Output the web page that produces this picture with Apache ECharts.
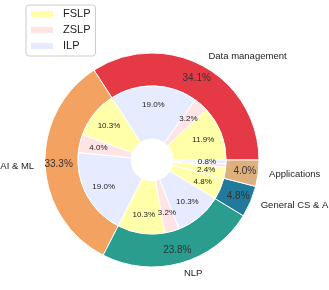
<!DOCTYPE html>
<html><head><meta charset="utf-8">
<script src="https://cdn.jsdelivr.net/npm/echarts@6/dist/echarts.min.js"></script>
<style>html,body{margin:0;padding:0;background:#fff}#c{width:329px;height:290px}</style>
</head><body><div id="c"></div>
<script>
const categories = ['Data management', 'AI & ML', 'NLP', 'General CS & AI', 'Applications'];
const promptTypes = ['FSLP', 'ZSLP', 'ILP'];
const fslp = [15, 13, 13, 6, 3];
const zslp = [4, 5, 4, 0, 1];
const ilp  = [24, 24, 13, 0, 1];
const catColors = ['#e63946', '#f4a261', '#2a9d8f', '#217a9c', '#ddb07e'];
const typeColors = ['#ffffaa', '#ffe4e6', '#e6ebff'];

const catTotals = categories.map((c, i) => fslp[i] + zslp[i] + ilp[i]);
const grand = catTotals.reduce((a, b) => a + b, 0);
const pct = v => (v / grand * 100).toFixed(1) + '%';

const outerData = categories.map((c, i) => ({ name: c, value: catTotals[i], itemStyle: { color: catColors[i] } }));
const innerData = [];
categories.forEach((c, i) => {
  [fslp[i], zslp[i], ilp[i]].forEach((v, j) => {
    innerData.push({ name: promptTypes[j], value: v, itemStyle: { color: typeColors[j] } });
  });
});

const FONT = 'Liberation Sans, Arial, sans-serif';
const center = [152, 160];
const common = { center: center, startAngle: 0, clockwise: false, avoidLabelOverlap: false, minAngle: 0, emphasis: { disabled: true } };

const chart = echarts.init(document.getElementById('c'), null, { renderer: 'canvas' });
chart.setOption({
  animation: false,
  legend: {
    data: promptTypes, orient: 'vertical', left: 26, top: 5,
    itemWidth: 24, itemHeight: 8, itemGap: 4, icon: 'rect',
    padding: [3, 5, 4, 3], borderColor: '#cccccc', borderWidth: 1, borderRadius: 3, backgroundColor: '#fff',
    textStyle: { fontFamily: FONT, fontSize: 11, lineHeight: 12, color: '#222', padding: [0, 0, 0, 4] }, selectedMode: false
  },
  series: [
    Object.assign({}, common, {
      type: 'pie', radius: [74, 107], data: outerData,
      itemStyle: { borderColor: '#fff', borderWidth: 1 },
      label: { show: true, position: 'inside', formatter: p => pct(p.value), fontFamily: FONT, fontSize: 10, color: '#333' },
      labelLine: { show: false }
    }),
    Object.assign({}, common, {
      type: 'pie', radius: [117, 118], data: outerData.map(d => ({ name: d.name, value: d.value })),
      silent: true, itemStyle: { color: 'rgba(0,0,0,0)', borderWidth: 0 },
      label: { show: true, position: 'outside', formatter: '{b}', fontFamily: FONT, fontSize: 9.5, color: '#222' },
      labelLine: { show: false, length: 0, length2: -5 }
    }),
    Object.assign({}, common, {
      type: 'pie', radius: [21, 74], data: innerData,
      itemStyle: { borderColor: '#fff', borderWidth: 1 },
      label: { show: false }, labelLine: { show: false }
    }),
    Object.assign({}, common, {
      type: 'pie', radius: [30, 74], data: innerData.map(d => ({ name: d.name + '_l', value: d.value })),
      silent: true, itemStyle: { color: 'rgba(0,0,0,0)', borderWidth: 0 },
      label: { show: true, position: 'inside', formatter: p => pct(p.value), fontFamily: FONT, fontSize: 8, color: '#222' },
      labelLine: { show: false }
    })
  ]
});
</script></body></html>
